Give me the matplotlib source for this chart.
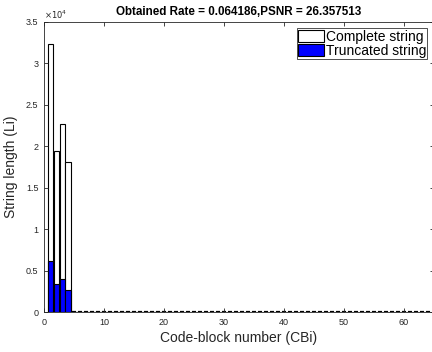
import matplotlib
matplotlib.use("Agg")
import matplotlib.pyplot as plt
import numpy as np

plt.rcParams["font.family"] = ["Liberation Sans", "DejaVu Sans"]

blocks = list(range(1, 65))
complete_vals = [32300, 19400, 22700, 18100] + [0] * 60
truncated_vals = [6200, 3400, 4000, 2700] + [0] * 60
title = "Obtained Rate = 0.064186,PSNR = 26.357513"
xlabel = "Code-block number (CBi)"
ylabel = "String length (Li)"
legend_labels = ["Complete string", "Truncated string"]

fig = plt.figure(figsize=(4.32, 3.52), dpi=100)
ax = fig.add_axes([0.102, 0.1136, 0.902, 0.824])

ax.bar(blocks, complete_vals, width=0.85, color="white", edgecolor="black",
       linewidth=0.8, label=legend_labels[0])
ax.bar(blocks, truncated_vals, width=0.85, color="#0000ff", edgecolor="black",
       linewidth=0.8, label=legend_labels[1])
# zero-height bars show as short dashes along the baseline
zero_x = [b for b, v in zip(blocks, complete_vals) if v == 0]
ax.bar(zero_x, [0] * len(zero_x), width=0.7, color="white", edgecolor="black",
       linewidth=1.6)

ax.set_xlim(0, 65)
ax.set_ylim(0, 35000)
ax.set_xticks(range(0, 61, 10))
ax.set_yticks(np.arange(0, 35001, 5000))
ax.set_yticklabels(["0", "0.5", "1", "1.5", "2", "2.5", "3", "3.5"])
ax.tick_params(direction="in", top=True, right=True, labelsize=6.5,
               colors="#262626", length=3, width=0.6, pad=4)
for s in ax.spines.values():
    s.set_linewidth(0.6)
    s.set_color("#262626")
ax.text(0.0, 1.005, r"$\times10^4$", transform=ax.transAxes, fontsize=6,
        color="#262626", ha="left", va="bottom")

ax.set_title(title, fontsize=8.4, fontweight="bold", pad=5)
ax.set_xlabel(xlabel, fontsize=10, color="#262626", labelpad=3)
ax.set_ylabel(ylabel, fontsize=10, color="#262626", labelpad=6)

leg = ax.legend(loc="upper right", fontsize=10, frameon=True, fancybox=False,
                edgecolor="black", borderpad=0.1, handlelength=1.9,
                handleheight=0.9, handletextpad=0.1, labelspacing=0.0,
                borderaxespad=0.45)
leg.get_frame().set_linewidth(0.6)

fig.savefig("out.png", dpi=100)
